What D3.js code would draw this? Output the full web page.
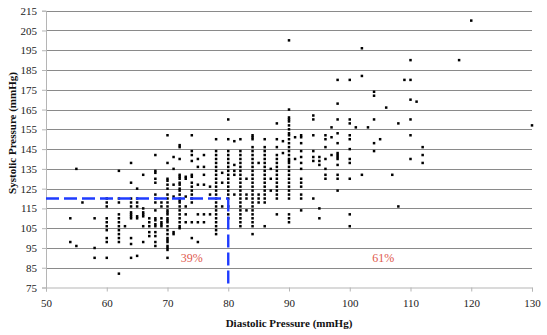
<!DOCTYPE html>
<html>
<head>
<meta charset="utf-8">
<script src="https://cdn.jsdelivr.net/npm/d3@7"></script>
<style>
  html, body { margin: 0; padding: 0; background: #fff; }
  svg { display: block; }
  text { font-family: "Liberation Serif", "Times New Roman", serif; }
</style>
</head>
<body>
<svg id="chart" width="547" height="335"></svg>
<script>
// Diastolic readings (mmHg), one entry per column of points
const diastolicLevels = [
  54, 55, 56, 58, 60, 62, 63, 64, 65, 66, 67, 68, 69, 70, 71, 72, 73, 74, 75, 76,
  77, 78, 79, 80, 81, 82, 83, 84, 85, 86, 87, 88, 89, 90, 91, 92, 94, 95, 96, 97,
  98, 100, 101, 102, 103, 104, 105, 106, 107, 108, 109, 110, 111, 112, 118, 120, 130
];

// Systolic readings (mmHg) recorded at each diastolic level above
const systolicByLevel = [
  [110, 98],
  [135, 96],
  [118],
  [110, 95, 90],
  [120, 118, 116, 110, 108, 106, 104, 100, 98, 90],
  [134, 120, 118, 112, 110, 108, 106, 104, 102, 100, 98, 82],
  [106],
  [138, 128, 120, 118, 116, 113, 112, 111, 110, 100, 97, 90],
  [125, 120, 118, 116, 111, 110, 91],
  [132, 115, 113, 112, 111, 106, 98],
  [110, 108, 106, 103, 101],
  [142, 134, 133, 130, 128, 122, 120, 118, 114, 110, 109, 107, 106, 103, 101, 98, 96],
  [118, 116, 110, 108, 107, 106],
  [152, 138, 130, 129, 127, 125, 122, 120, 118, 116, 114, 113, 112, 110, 109, 108, 106, 104, 102, 100, 99, 98, 96, 95, 94, 90],
  [141, 135, 127, 121, 103, 102],
  [147, 146, 140, 132, 131, 130, 128, 127, 125, 124, 122, 120, 119, 118, 116, 114, 112, 110, 108, 106, 105],
  [131, 130, 121, 116, 112, 108],
  [152, 144, 142, 139, 132, 131, 128, 126, 124, 122, 120, 118, 108, 100],
  [140, 136, 127, 112, 108, 98],
  [142, 136, 132, 127, 112, 108],
  [126, 122, 112],
  [150, 144, 142, 140, 138, 136, 134, 132, 130, 128, 126, 124, 122, 120, 118, 116, 114, 112, 110, 108, 106, 104, 102],
  [133, 128, 116],
  [160, 150, 144, 142, 140, 138, 136, 134, 132, 130, 128, 126, 124, 122, 120, 116, 112, 110],
  [149, 137, 134, 132, 122],
  [150, 144, 142, 140, 138, 136, 134, 132, 130, 128, 126, 124, 122, 120, 118, 116, 114, 112, 110, 108, 106],
  [130, 122, 120, 114],
  [152, 151, 150, 146, 144, 142, 140, 138, 136, 134, 132, 130, 128, 126, 124, 122, 120, 118, 116, 114, 112, 110, 108, 106, 102],
  [138, 122, 120, 118],
  [150, 146, 144, 142, 140, 138, 136, 134, 132, 130, 128, 126, 124, 122, 120, 118, 106],
  [135, 130, 124],
  [158, 150, 146, 142, 140, 138, 136, 134, 132, 130, 128, 126, 124, 122, 120, 112],
  [149, 143],
  [200, 165, 161, 160, 159, 157, 155, 153, 152, 150, 148, 146, 144, 142, 140, 139, 138, 136, 134, 132, 130, 128, 126, 124, 122, 120, 112, 110, 108],
  [151, 140],
  [152, 151, 148, 144, 141, 138, 135, 130, 128, 126, 122, 120, 114],
  [162, 160, 152, 144, 141, 139, 120],
  [141, 139, 137, 115, 110],
  [152, 150, 146, 140, 135, 132, 130],
  [156, 151, 142],
  [180, 168, 160, 153, 148, 143, 142, 141, 140, 137, 132, 130, 124],
  [180, 160, 158, 152, 150, 145, 140, 138, 130, 112, 106],
  [156],
  [196, 182, 132],
  [156],
  [174, 172, 160, 148, 144],
  [150],
  [166],
  [132],
  [158, 116],
  [180],
  [190, 180, 170, 160, 152, 140],
  [169],
  [146, 142, 138],
  [190],
  [210],
  [157]
];

// Axis ticks
const xTicks = [50, 60, 70, 80, 90, 100, 110, 120, 130];
const yTicks = [75, 85, 95, 105, 115, 125, 135, 145, 155, 165, 175, 185, 195, 205, 215];

// Reference thresholds and the share of readings on each side
const thresholdDiastolic = 80;
const thresholdSystolic = 120;
const shareLabels = [
  { text: "39%", x: 74, y: 90 },
  { text: "61%", x: 105.5, y: 90 }
];

const points = diastolicLevels.flatMap((d, i) =>
  systolicByLevel[i].map(s => ({ diastolic: d, systolic: s }))
);

const svg = d3.select("#chart");
const plot = { left: 46, right: 532, top: 10.7, bottom: 287.5 };

const x = d3.scaleLinear().domain([50, 130]).range([plot.left, plot.right]);
const y = d3.scaleLinear().domain([75, 215]).range([plot.bottom, plot.top]);

// Horizontal gridlines
svg.append("g")
  .selectAll("line")
  .data(yTicks.filter(t => t > 75))
  .join("line")
  .attr("x1", plot.left)
  .attr("x2", plot.right)
  .attr("y1", d => Math.round(y(d)) + 0.5)
  .attr("y2", d => Math.round(y(d)) + 0.5)
  .attr("stroke", "#8a8a8a")
  .attr("stroke-width", 1.2);

// Left axis
const yAxis = svg.append("g")
  .attr("transform", `translate(${plot.left},0)`)
  .call(d3.axisLeft(y).tickValues(yTicks).tickSize(4).tickPadding(5).tickFormat(d3.format("d")));
yAxis.select(".domain").attr("stroke", "#b5b5b5");
yAxis.selectAll(".tick line").attr("stroke", "#b5b5b5");
yAxis.selectAll(".tick text")
  .attr("fill", "#222")
  .style("font-size", "11px")
  .style("font-family", "'Liberation Serif', serif");

// Bottom axis
const xAxis = svg.append("g")
  .attr("transform", `translate(0,${plot.bottom})`)
  .call(d3.axisBottom(x).tickValues(xTicks).tickSize(4).tickPadding(8).tickFormat(d3.format("d")));
xAxis.select(".domain").attr("stroke", "#b5b5b5");
xAxis.selectAll(".tick line").attr("stroke", "#b5b5b5");
xAxis.selectAll(".tick text")
  .attr("fill", "#222")
  .style("font-size", "11px")
  .style("font-family", "'Liberation Serif', serif");

// Readings
svg.append("g")
  .selectAll("rect")
  .data(points)
  .join("rect")
  .attr("x", d => x(d.diastolic) - 1.25)
  .attr("y", d => y(d.systolic) - 1.25)
  .attr("width", 2.5)
  .attr("height", 2.5)
  .attr("fill", "#000");

// Threshold guides
const guide = svg.append("g")
  .attr("fill", "none")
  .attr("stroke", "#1f3cff")
  .attr("stroke-width", 2.4)
  .attr("stroke-dasharray", "13,5");
guide.append("line")
  .attr("x1", x(50)).attr("x2", x(thresholdDiastolic))
  .attr("y1", y(thresholdSystolic)).attr("y2", y(thresholdSystolic));
guide.append("line")
  .attr("x1", x(thresholdDiastolic)).attr("x2", x(thresholdDiastolic))
  .attr("y1", y(thresholdSystolic)).attr("y2", y(75));

// Share labels
svg.append("g")
  .selectAll("text")
  .data(shareLabels)
  .join("text")
  .attr("x", d => x(d.x))
  .attr("y", d => y(d.y))
  .attr("dy", "0.35em")
  .attr("text-anchor", "middle")
  .attr("fill", "#e0584c")
  .style("font-size", "12px")
  .text(d => d.text);

// Axis titles
svg.append("text")
  .attr("x", (plot.left + plot.right) / 2)
  .attr("y", 327)
  .attr("text-anchor", "middle")
  .attr("font-weight", "bold")
  .attr("fill", "#111")
  .style("font-size", "11px")
  .text("Diastolic Pressure (mmHg)");

svg.append("text")
  .attr("transform", "translate(16,133) rotate(-90)")
  .attr("text-anchor", "middle")
  .attr("font-weight", "bold")
  .attr("fill", "#111")
  .style("font-size", "11px")
  .text("Systolic Pressure (mmHg)");
</script>
</body>
</html>
